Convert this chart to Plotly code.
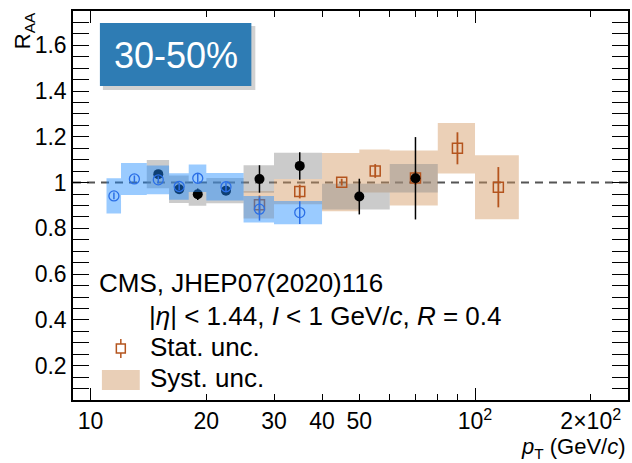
import numpy as np
import plotly.graph_objects as go

# ---- data ---------------------------------------------------------------
# open blue circles
blue_pt = [11.5, 13, 15, 17, 19, 22.5, 27.5, 35]
blue_lo = [11, 12, 14, 16, 18, 20, 25, 30]
blue_hi = [12, 14, 16, 18, 20, 25, 30, 40]
blue_r = [0.942, 1.016, 1.012, 0.983, 1.019, 0.982, 0.884, 0.869]
blue_stat = [0.015, 0.015, 0.015, 0.015, 0.02, 0.02, 0.05, 0.05]
blue_syst = [0.077, 0.07, 0.063, 0.058, 0.06, 0.06, 0.058, 0.051]

# filled black circles
black_pt = [15, 17, 19, 22.5, 27.5, 35, 50, 70]
black_lo = [14, 16, 18, 20, 25, 30, 40, 60]
black_hi = [16, 18, 20, 25, 30, 40, 60, 80]
black_r = [1.037, 0.971, 0.949, 0.965, 1.016, 1.073, 0.939, 1.019]
black_stat = [0.015, 0.015, 0.025, 0.015, 0.06, 0.06, 0.078, 0.18]
black_syst = [0.062, 0.06, 0.05, 0.055, 0.06, 0.057, 0.056, 0.062]

# CMS open squares
cms_pt = [27.5, 35, 45, 55, 70, 90, 115]
cms_lo = [25, 30, 40, 50, 60, 80, 100]
cms_hi = [30, 40, 50, 60, 80, 100, 130]
cms_r = [0.903, 0.961, 1.002, 1.051, 1.02, 1.150, 0.98]
cms_stat = [0.04, 0.03, 0.015, 0.03, 0.03, 0.07, 0.088]
cms_syst = [0.06, 0.055, 0.127, 0.094, 0.12, 0.11, 0.14]

xtick_vals = [10, 20, 30, 40, 50, 100, 200]
xtick_text = ["10", "20", "30", "40", "50", "10<sup>2</sup>", "2×10<sup>2</sup>"]
ytick_vals = [0.2, 0.4, 0.6, 0.8, 1.0, 1.2, 1.4, 1.6]
ytick_text = ["0.2", "0.4", "0.6", "0.8", "1", "1.2", "1.4", "1.6"]

FONT = "Liberation Sans, Arial, Helvetica, sans-serif"
BLUE = "#2b6fe6"
BROWN = "#b4541e"
BLUE_BOX = "rgba(30,140,255,0.45)"
GRAY_BOX = "rgba(140,140,140,0.45)"
TAN_BOX = "rgba(210,150,95,0.45)"

W, H = 632, 463
L, R, T, B = 73, 2, 11, 63


def px(x):
    return (x - L) / (W - L - R)


def py(y):
    return (H - B - y) / (H - B - T)


def boxes(lo, hi, r, s):
    xs, ys = [], []
    for a, b, c, d in zip(lo, hi, r, s):
        xs += [a, b, b, a, a, None]
        ys += [c - d, c - d, c + d, c + d, c - d, None]
    return xs, ys


def box_trace(lo, hi, r, s, color):
    xs, ys = boxes(lo, hi, r, s)
    return go.Scatter(x=xs, y=ys, mode="lines", fill="toself", fillcolor=color,
                      line=dict(width=0), hoverinfo="skip")


fig = go.Figure()

# systematic boxes
fig.add_trace(box_trace(cms_lo, cms_hi, cms_r, cms_syst, TAN_BOX))
fig.add_trace(box_trace(black_lo, black_hi, black_r, black_syst, GRAY_BOX))

# CMS points with statistical bars
fig.add_trace(go.Scatter(
    x=cms_pt, y=cms_r, mode="markers",
    marker=dict(symbol="square-open", size=10, color=BROWN, line=dict(width=1.5, color=BROWN)),
    error_y=dict(type="data", array=cms_stat, color=BROWN, thickness=1.8, width=0)))

# black points
fig.add_trace(go.Scatter(
    x=black_pt, y=black_r, mode="markers",
    marker=dict(symbol="circle", size=10, color="black"),
    error_y=dict(type="data", array=black_stat, color="black", thickness=1.5, width=0)))

# blue boxes and points
fig.add_trace(box_trace(blue_lo, blue_hi, blue_r, blue_syst, BLUE_BOX))
fig.add_trace(go.Scatter(
    x=blue_pt, y=blue_r, mode="markers",
    marker=dict(symbol="circle-open", size=10, color=BLUE, line=dict(width=1.3, color=BLUE)),
    error_y=dict(type="data", array=blue_stat, color=BLUE, thickness=1.5, width=0)))

# helper axis carrying the long decade ticks
fig.add_trace(go.Scatter(x=[], y=[], xaxis="x2", showlegend=False))

x_range = [np.log10(9), np.log10(250)]
fig.update_layout(
    width=W, height=H,
    margin=dict(l=L, r=R, t=T, b=B),
    paper_bgcolor="white", plot_bgcolor="white",
    showlegend=False,
    font=dict(family=FONT, size=23, color="black"),
    xaxis=dict(type="log", range=x_range, tickmode="array",
               tickvals=xtick_vals, ticktext=xtick_text,
               ticks="inside", ticklen=6, tickwidth=1, tickcolor="black",
               showline=True, linecolor="black", linewidth=1.5, mirror="allticks",
               showgrid=False, zeroline=False,
               tickfont=dict(size=23),
               minor=dict(tickmode="array", tickvals=[60, 70, 80, 90], ticks="inside",
                          ticklen=6, tickcolor="black", tickwidth=1, showgrid=False)),
    xaxis2=dict(type="log", range=x_range, overlaying="x", anchor="y", side="bottom",
                tickmode="array", tickvals=[10, 100], ticks="inside", ticklen=12,
                tickwidth=1, tickcolor="black", showticklabels=False,
                showline=True, linecolor="black", linewidth=1.5, mirror="allticks",
                showgrid=False, zeroline=False),
    yaxis=dict(range=[0.05, 1.75], tickmode="array", tickvals=ytick_vals, ticktext=ytick_text,
               ticks="inside", ticklen=16, tickwidth=1, tickcolor="black",
               showline=True, linecolor="black", linewidth=1.5, mirror="allticks",
               showgrid=False, zeroline=False, tickfont=dict(size=23),
               minor=dict(tick0=0, dtick=0.05, ticks="inside", ticklen=8,
                          tickcolor="black", tickwidth=1, showgrid=False)),
)

# unity reference line
fig.add_hline(y=1, line=dict(color="#555555", width=2, dash="8px,6px"), layer="below")

shapes = []
# centrality badge with shadow
shapes.append(dict(type="rect", xref="paper", yref="paper",
                   x0=px(103), x1=px(256), y0=py(90), y1=py(26),
                   fillcolor="rgba(0,0,0,0.18)", line=dict(width=0)))
shapes.append(dict(type="rect", xref="paper", yref="paper",
                   x0=px(100), x1=px(252), y0=py(86), y1=py(23),
                   fillcolor="#2e7cb4", line=dict(width=0)))
# legend glyphs
shapes.append(dict(type="rect", xref="paper", yref="paper",
                   x0=px(102), x1=px(140), y0=py(390), y1=py(370),
                   fillcolor="#e9cfb7", line=dict(width=0)))
shapes.append(dict(type="rect", xref="paper", yref="paper",
                   x0=px(116.5), x1=px(125.5), y0=py(353), y1=py(344),
                   fillcolor="rgba(0,0,0,0)", line=dict(color=BROWN, width=1.5)))
shapes.append(dict(type="line", xref="paper", yref="paper",
                   x0=px(121), x1=px(121), y0=py(344), y1=py(339),
                   line=dict(color=BROWN, width=1.5)))
shapes.append(dict(type="line", xref="paper", yref="paper",
                   x0=px(121), x1=px(121), y0=py(358), y1=py(353),
                   line=dict(color=BROWN, width=1.5)))
for s in shapes:
    fig.add_shape(**s)

annotations = [
    dict(text="30-50%", x=px(176), y=py(55), font=dict(size=36, color="white"),
         xanchor="center", yanchor="middle"),
    dict(text="CMS, JHEP07(2020)116", x=px(97), y=py(283), font=dict(size=26),
         xanchor="left", yanchor="middle"),
    dict(text="|<i>η</i>| &lt; 1.44, <i>I</i> &lt; 1 GeV/<i>c</i>, <i>R</i> = 0.4",
         x=px(147), y=py(316), font=dict(size=26), xanchor="left", yanchor="middle"),
    dict(text="Stat. unc.", x=px(148), y=py(347), font=dict(size=26),
         xanchor="left", yanchor="middle"),
    dict(text="Syst. unc.", x=px(148), y=py(378), font=dict(size=26),
         xanchor="left", yanchor="middle"),
    dict(text="R<sub>AA</sub>", x=px(24), y=py(31), textangle=-90, font=dict(size=22),
         xanchor="center", yanchor="middle"),
    dict(text="<i>p</i><sub>T</sub> (GeV/<i>c</i>)", x=px(630), y=py(447.5), font=dict(size=22),
         xanchor="right", yanchor="middle"),
]
for a in annotations:
    fig.add_annotation(xref="paper", yref="paper", showarrow=False, **a)

fig.write_html("out.html")
